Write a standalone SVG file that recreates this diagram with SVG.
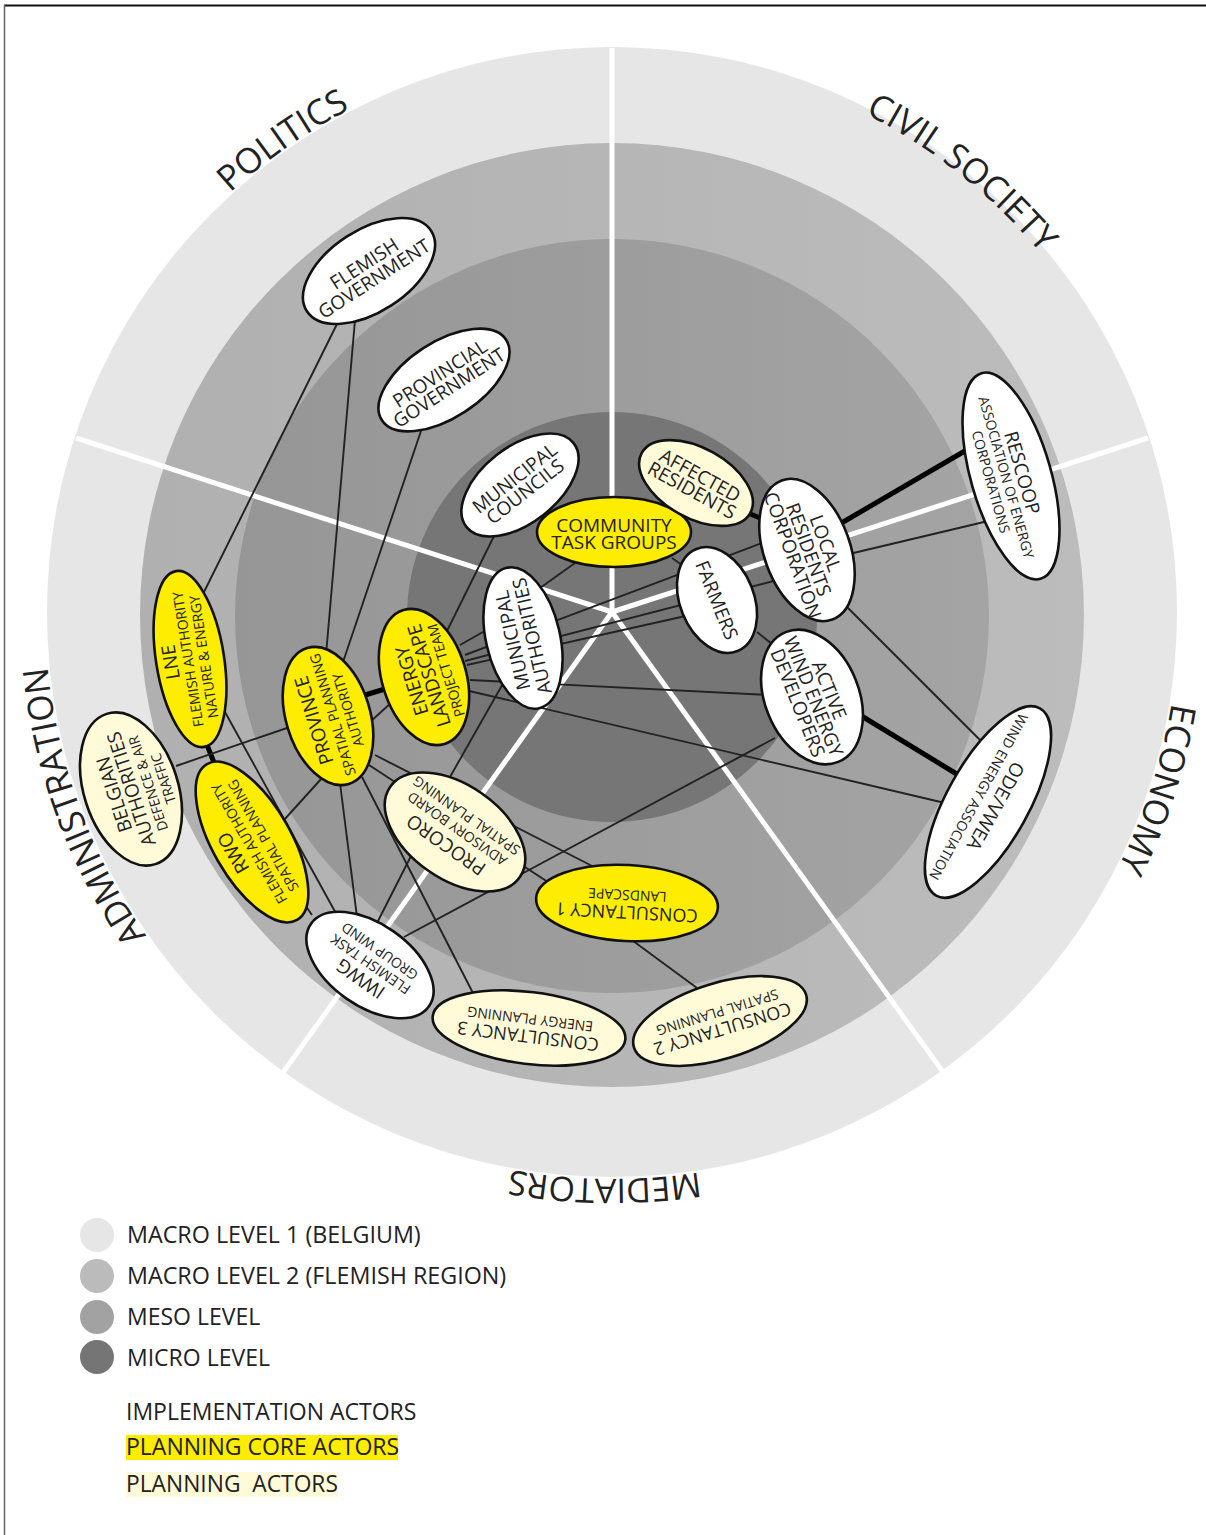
<svg xmlns="http://www.w3.org/2000/svg" width="1206" height="1535" viewBox="0 0 1206 1535">
<style>
text{font-family:"Open Sans","Noto Sans","DejaVu Sans",sans-serif;fill:#222;text-anchor:middle;white-space:pre}
.n ellipse{stroke:#111;stroke-width:2.6}
.w{fill:#fff}.y{fill:#ffed00}.p{fill:#fffbd9}
.c line{stroke:#222;stroke-width:1.9}
.c line.t{stroke:#000;stroke-width:5}
.s{stroke:#fff;stroke-width:5;fill:none}
.r{font-size:35px}
.a{font-size:19px}.e{font-size:18px}.b{font-size:14px}
.l{font-size:23px;text-anchor:start}
.m{font-size:23.3px}
</style>
<defs>
<path id="arcA" d="M612 45A567 567 0 1 1 611.9 45"/>
<path id="arcB" d="M612 53A559 559 0 1 1 611.9 53"/>
<linearGradient id="g2" x1="0" x2="1" y1="0" y2="0"><stop offset="0" stop-color="#b0b0b0"/><stop offset="1" stop-color="#bcbcbc"/></linearGradient>
<linearGradient id="g3" x1="0" x2="1" y1="0" y2="0"><stop offset="0" stop-color="#969696"/><stop offset="1" stop-color="#a4a4a4"/></linearGradient>
</defs>
<rect width="1206" height="1535" fill="#fff"/>
<g id="frame">
<line x1="4" y1="5.5" x2="1206" y2="5.5" stroke="#111" stroke-width="2"/>
<line x1="4.5" y1="5" x2="4.5" y2="1535" stroke="#666" stroke-width="1.5"/>
</g>
<g id="rings">
<circle cx="612" cy="612" r="565" fill="#e6e6e6"/>
<circle cx="612" cy="615" r="472" fill="url(#g2)"/>
<circle cx="612" cy="616" r="377" fill="url(#g3)"/>
<circle cx="612" cy="617" r="205" fill="#767676"/>
</g>
<g id="spokes" class="s">
<line x1="612" y1="48" x2="612" y2="612"/>
<line x1="1148" y1="438" x2="612" y2="612"/>
<line x1="76" y1="438" x2="612" y2="612"/>
<line x1="282" y1="1074" x2="612" y2="612"/>
<line x1="943" y1="1072" x2="612" y2="612"/>
</g>
<g id="sectors">
<text class="r"><textPath href="#arcA" startOffset="90.3%">POLITICS</textPath></text>
<text class="r"><textPath href="#arcB" startOffset="10.7%">CIVIL SOCIETY</textPath></text>
<text class="r"><textPath href="#arcA" startOffset="30%">ECONOMY</textPath></text>
<text class="r" style="font-size:34px"><textPath href="#arcA" startOffset="50.2%">MEDIATORS</textPath></text>
<text class="r"><textPath href="#arcA" startOffset="69.4%">ADMINISTRATION</textPath></text>
</g>
<g id="connectors" class="c">
<line x1="338" y1="322" x2="203" y2="594"/>
<line x1="355" y1="320" x2="326" y2="655"/>
<line x1="423" y1="425" x2="342" y2="665"/>
<line x1="497" y1="530" x2="445" y2="635"/>
<line class="t" x1="365" y1="695" x2="385" y2="689"/>
<line x1="370" y1="722" x2="392" y2="702"/>
<line class="t" x1="207" y1="745" x2="215" y2="765"/>
<line x1="176" y1="766" x2="287" y2="728"/>
<line x1="225" y1="712" x2="338" y2="917"/>
<line x1="322" y1="778" x2="284" y2="820"/>
<line x1="340" y1="783" x2="358" y2="925"/>
<line x1="362" y1="777" x2="474" y2="995"/>
<line x1="375" y1="755" x2="600" y2="870"/>
<line x1="369" y1="765" x2="560" y2="890"/>
<line x1="411" y1="856" x2="376" y2="925"/>
<line x1="505" y1="680" x2="450" y2="777"/>
<line x1="404" y1="937" x2="775" y2="738"/>
<line x1="625" y1="935" x2="697" y2="988"/>
<line x1="465" y1="690" x2="945" y2="803"/>
<line x1="460" y1="645" x2="490" y2="628"/>
<line x1="465" y1="655" x2="770" y2="540"/>
<line x1="465" y1="661" x2="785" y2="578"/>
<line x1="467" y1="665" x2="690" y2="615"/>
<line x1="470" y1="680" x2="770" y2="695"/>
<line x1="575" y1="563" x2="540" y2="588"/>
<line x1="672" y1="558" x2="682" y2="565"/>
<line class="t" x1="748" y1="513" x2="765" y2="520"/>
<line x1="757" y1="632" x2="782" y2="652"/>
<line class="t" x1="838" y1="525" x2="970" y2="448"/>
<line x1="845" y1="555" x2="984" y2="522"/>
<line x1="840" y1="600" x2="980" y2="740"/>
<line class="t" x1="855" y1="712" x2="960" y2="776"/>
<line x1="305" y1="905" x2="312" y2="915"/>
</g>
<g id="flemish-government" class="n" transform="translate(369 271) rotate(-33)"><ellipse class="w" rx="74" ry="41"/><text class="a" y="-2">FLEMISH</text><text class="a" y="16">GOVERNMENT</text></g>
<g id="provincial-government" class="n" transform="translate(444 380) rotate(-33)"><ellipse class="w" rx="74" ry="38"/><text class="a" y="-1">PROVINCIAL</text><text class="a" y="16">GOVERNMENT</text></g>
<g id="municipal-councils" class="n" transform="translate(520 485) rotate(-38)"><ellipse class="w" rx="68" ry="38"/><text class="a" y="-2">MUNICIPAL</text><text class="a" y="15">COUNCILS</text></g>
<g id="community-task-groups" class="n" transform="translate(614 532)"><ellipse class="y" rx="77" ry="35"/><text class="a" y="0">COMMUNITY</text><text class="a" y="17">TASK GROUPS</text></g>
<g id="affected-residents" class="n" transform="translate(696 483) rotate(29)"><ellipse class="p" rx="62" ry="35"/><text class="a" y="-2">AFFECTED</text><text class="a" y="15">RESIDENTS</text></g>
<g id="local-residents" class="n" transform="translate(807 550) rotate(70)"><ellipse class="w" rx="74" ry="43"/><text class="a" y="-13">LOCAL</text><text class="a" y="5">RESIDENTS</text><text class="a" y="22">CORPORATION</text></g>
<g id="farmers" class="n" transform="translate(717 600) rotate(68)"><ellipse class="w" rx="55" ry="37"/><text class="a" y="7">FARMERS</text></g>
<g id="active-wind" class="n" transform="translate(812 697) rotate(68)"><ellipse class="w" rx="70" ry="47"/><text class="a" y="-12">ACTIVE</text><text class="a" y="5">WIND ENERGY</text><text class="a" y="22">DEVELOPERS</text></g>
<g id="rescoop" class="n" transform="translate(1011 476) rotate(74)"><ellipse class="w" rx="107" ry="40"/><text class="a" y="-5">RESCOOP</text><text class="b" y="10">ASSOCIATION OF ENERGY</text><text class="b" y="26">CORPORATIONS</text></g>
<g id="ode-vwea" class="n" transform="translate(988 802) rotate(119)"><ellipse class="w" rx="107" ry="41"/><text class="a" y="-2">ODE/VWEA</text><text class="b" y="16">WIND ENERGY ASSOCIATION</text></g>
<g id="municipal-authorities" class="n" transform="translate(523 638) rotate(-103)"><ellipse class="w" rx="72" ry="37"/><text class="a" y="-4">MUNICIPAL</text><text class="a" y="16">AUTHORITIES</text></g>
<g id="energy-landscape" class="n" transform="translate(424 677) rotate(-107)"><ellipse class="y" rx="70" ry="42"/><text class="a" y="-6">ENERGY</text><text class="a" y="12">LANDSCAPE</text><text class="b" y="28">PROJECT TEAM</text></g>
<g id="province" class="n" transform="translate(328 716) rotate(-107)"><ellipse class="y" rx="71" ry="42"/><text class="a" y="-8">PROVINCE</text><text class="b" y="10">SPATIAL PLANNING</text><text class="b" y="26">AUTHORITY</text></g>
<g id="lne" class="n" transform="translate(190 659) rotate(-99)"><ellipse class="y" rx="89" ry="34"/><text class="a" y="-13">LNE</text><text class="b" y="3">FLEMISH AUTHORITY</text><text class="b" y="19">NATURE &amp; ENERGY</text></g>
<g id="belgian-authorities" class="n" transform="translate(131 789) rotate(-108)"><ellipse class="p" rx="79" ry="47"/><text class="a" y="-11">BELGIAN</text><text class="a" y="7">AUTHORITIES</text><text class="b" y="23">DEFENCE &amp; AIR</text><text class="b" y="39">TRAFFIC</text></g>
<g id="rwo" class="n" transform="translate(252 842) rotate(-120)"><ellipse class="y" rx="90" ry="39"/><text class="a" y="-15">RWO</text><text class="b" y="2">FLEMISH AUTHORITY</text><text class="b" y="18">SPATIAL PLANNING</text></g>
<g id="procoro" class="n" transform="translate(455 832) rotate(215)"><ellipse class="p" rx="79" ry="47"/><text class="a" y="-9">PROCORO</text><text class="b" y="9">ADVISORY BOARD</text><text class="b" y="25">SPATIAL PLANNING</text></g>
<g id="consultancy-1" class="n" transform="translate(627 903) rotate(183)"><ellipse class="y" rx="91" ry="38"/><text class="e" y="-3">CONSULTANCY 1</text><text class="b" y="13">LANDSCAPE</text></g>
<g id="consultancy-2" class="n" transform="translate(720 1021) rotate(163)"><ellipse class="p" rx="90" ry="38"/><text class="e" y="-2">CONSULTANCY 2</text><text class="b" y="14">SPATIAL PLANNING</text></g>
<g id="consultancy-3" class="n" transform="translate(529 1028) rotate(187)"><ellipse class="p" rx="97" ry="36"/><text class="e" y="-2">CONSULTANCY 3</text><text class="b" y="14">ENERGY PLANNING</text></g>
<g id="iwwg" class="n" transform="translate(370 965) rotate(215)"><ellipse class="w" rx="72" ry="41"/><text class="a" y="-10">IWWG</text><text class="b" y="6">FLEMISH TASK</text><text class="b" y="22">GROUP WIND</text></g>
<g id="legend">
<circle cx="97" cy="1235" r="17" fill="#e6e6e6"/>
<circle cx="97" cy="1276" r="17" fill="#bbb"/>
<circle cx="97" cy="1317" r="17" fill="#a2a2a2"/>
<circle cx="97" cy="1357" r="17" fill="#757575"/>
<text class="l m" x="127" y="1243">MACRO LEVEL 1 (BELGIUM)</text>
<text class="l m" x="127" y="1284">MACRO LEVEL 2 (FLEMISH REGION)</text>
<text class="l" x="127" y="1325">MESO LEVEL</text>
<text class="l" x="127" y="1366">MICRO LEVEL</text>
<rect x="126" y="1435" width="272" height="25" fill="#ffed00"/>
<rect x="126" y="1472" width="212" height="25" fill="#fffbd9"/>
<text class="l" x="126" y="1420">IMPLEMENTATION ACTORS</text>
<text class="l" x="126" y="1455">PLANNING CORE ACTORS</text>
<text class="l" x="126" y="1492" style="font-size:22.8px">PLANNING  ACTORS</text>
</g>
</svg>
